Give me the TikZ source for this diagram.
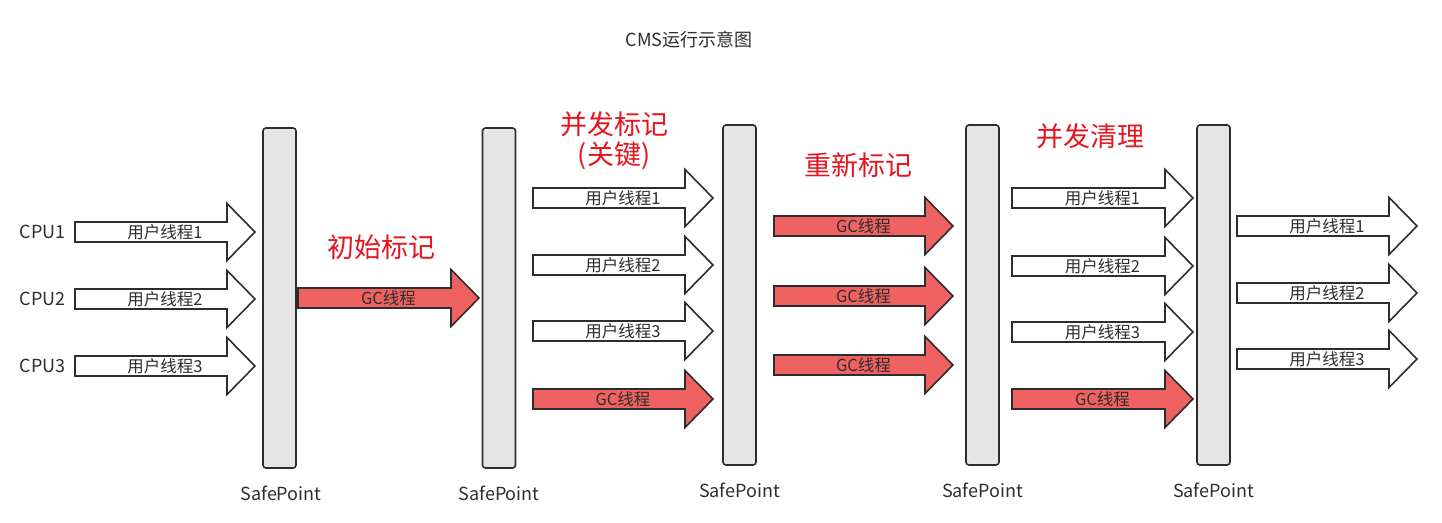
\documentclass[tikz,border=0pt]{standalone}
\usepackage{fontspec}
\setmainfont{Noto Sans CJK SC}
\definecolor{gcred}{RGB}{240,98,98}
\definecolor{lblred}{RGB}{230,20,30}
\definecolor{ink}{RGB}{45,45,45}
\definecolor{barfill}{RGB}{229,229,229}
\tikzset{
  thr/.style={draw=ink, line width=1.6pt, line join=miter, fill=white},
  gcthr/.style={thr, fill=gcred},
  lbl/.style={font=\fontsize{16.5}{18}\selectfont, text=ink, inner sep=0pt},
  bar/.style={draw=ink, line width=1.6pt, fill=barfill, rounded corners=3pt, minimum width=33pt, minimum height=340pt, inner sep=0pt},
  sp/.style={font=\fontsize{18}{20}\selectfont, text=ink},
  phase/.style={font=\fontsize{27}{30}\selectfont, text=lblred},
  cpu/.style={font=\fontsize{18}{20}\selectfont, text=ink, anchor=east, inner sep=0pt},
}
\newcommand{\thread}[6]{%
  \draw[#5] (#2,#4-10) -- (#3-28,#4-10) -- (#3-28,#4-28.5) -- (#3,#4) -- (#3-28,#4+28.5) -- (#3-28,#4+10) -- (#2,#4+10) -- cycle;
  \node[lbl] (#1) at ({(#2+#3)/2},#4) {#6};}
\begin{document}
\begin{tikzpicture}[x=1pt,y=-1pt]
\useasboundingbox (0,0) rectangle (1442,522);
\node[font=\fontsize{18}{20}\selectfont, text=ink] (title) at (689,40) {CMS运行示意图};
% bars
\node[bar] (b1) at (279.5,298) {};
\node[bar] (b2) at (499,298) {};
\node[bar] (b3) at (739.5,295) {};
\node[bar] (b4) at (982.5,295) {};
\node[bar] (b5) at (1213.5,295) {};
\node[sp] (sp1) at (281,493) {SafePoint};
\node[sp] (sp2) at (499,493) {SafePoint};
\node[sp] (sp3) at (739.5,490) {SafePoint};
\node[sp] (sp4) at (982.5,490) {SafePoint};
\node[sp] (sp5) at (1213.5,490) {SafePoint};
% CPU labels
\node[cpu] (c1) at (66,232) {CPU1};
\node[cpu] (c2) at (66,299) {CPU2};
\node[cpu] (c3) at (66,366) {CPU3};
% group 1
\thread{a11}{75}{255}{232}{thr}{用户线程1}
\thread{a12}{75}{255}{299}{thr}{用户线程2}
\thread{a13}{75}{255}{366}{thr}{用户线程3}
% initial mark
\thread{g1}{298}{479}{298}{gcthr}{GC线程}
\node[phase] (p1) at (381,247) {初始标记};
% concurrent mark
\thread{a21}{533}{713}{198}{thr}{用户线程1}
\thread{a22}{533}{713}{265}{thr}{用户线程2}
\thread{a23}{533}{713}{331}{thr}{用户线程3}
\thread{g2}{533}{713}{399}{gcthr}{GC线程}
\node[phase] (p2) at (614,124) {并发标记};
\node[phase] (p2b) at (614,156) {(关键)};
% remark
\thread{g31}{774}{953}{226}{gcthr}{GC线程}
\thread{g32}{774}{953}{296}{gcthr}{GC线程}
\thread{g33}{774}{953}{365}{gcthr}{GC线程}
\node[phase] (p3) at (858,165) {重新标记};
% concurrent sweep
\thread{a41}{1012}{1193}{198}{thr}{用户线程1}
\thread{a42}{1012}{1193}{266}{thr}{用户线程2}
\thread{a43}{1012}{1193}{332}{thr}{用户线程3}
\thread{g4}{1012}{1193}{399}{gcthr}{GC线程}
\node[phase] (p4) at (1090,136) {并发清理};
% after
\thread{a51}{1237}{1417}{226}{thr}{用户线程1}
\thread{a52}{1237}{1417}{293}{thr}{用户线程2}
\thread{a53}{1237}{1417}{359}{thr}{用户线程3}
\end{tikzpicture}
\end{document}
